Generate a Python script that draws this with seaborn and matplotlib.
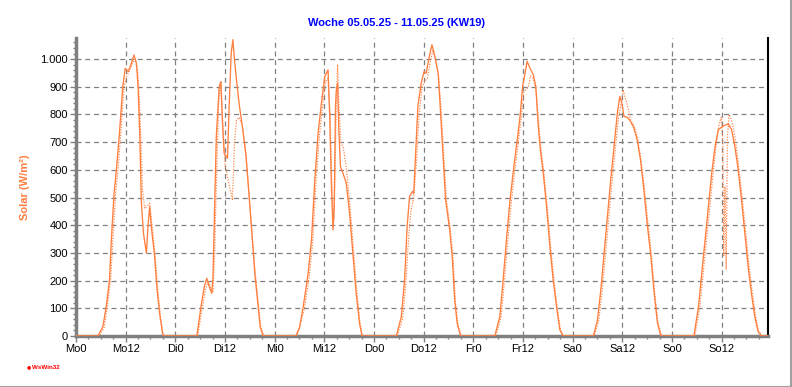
import matplotlib
matplotlib.use("Agg")
import matplotlib.pyplot as plt
from matplotlib.ticker import FixedLocator, MultipleLocator, FuncFormatter
from matplotlib.lines import Line2D
import seaborn as sns
import pandas as pd

# ---------------- data (hours since Monday 00:00, W/m²) ----------------
solar_hours = [
    0, 5.3, 6.5, 7.3, 8.1, 8.5, 9.2, 9.7, 10.5, 11.3, 11.9, 12.6, 13.4, 14.0, 14.6, 15.0, 15.4, 15.8,
    16.3, 17.0, 17.4, 17.8, 18.2, 19.0, 19.6, 20.2, 20.9, 21.2,
    29.2, 30.2, 31.0, 31.6, 32.2, 32.8, 33.1, 33.5, 33.9, 34.6, 35.0, 35.4, 35.8, 36.6, 37.0, 37.5,
    37.9, 38.3, 38.9, 39.5, 40.3, 41.1, 41.9, 42.6, 43.2, 44.0, 44.5, 45.2,
    53.1, 54.0, 54.9, 56.1, 56.9, 57.7, 58.5, 59.3, 60.1, 60.9, 61.3, 61.7, 62.1, 62.4, 62.7, 62.9,
    63.2, 63.5, 63.9, 64.5, 65.3, 66.1, 66.9, 67.7, 68.5, 69.1,
    77.4, 78.6, 79.4, 80.0, 80.6, 81.3, 81.6, 82.1, 82.6, 83.4, 84.1, 84.6, 85.3, 86.0, 86.7, 87.5,
    88.0, 88.7, 89.3, 90.3, 90.9, 91.5, 92.1, 92.9,
    101.2, 102.4, 103.2, 104.0, 104.8, 105.6, 106.4, 107.3, 107.9, 108.5, 109.0, 109.7, 110.5, 111.1,
    111.7, 112.2, 112.9, 113.7, 114.5, 115.3, 116.1, 116.9, 117.7,
    125.0, 126.0, 126.8, 127.6, 128.4, 129.2, 130.0, 130.8, 131.4, 131.9, 132.4, 133.2, 134.0, 134.8,
    135.6, 136.4, 137.2, 138.0, 138.9, 139.7, 140.5, 141.3,
    149.3, 150.4, 151.2, 152.0, 152.8, 153.6, 154.4, 155.2, 156.4, 157.6, 158.4, 159.2, 160.0, 160.8,
    161.6, 162.4, 163.2, 164.0, 164.8, 165.6, 167.2,
]
solar_values = [
    0, 0, 34, 106, 202, 335, 516, 590, 733, 900, 967, 955, 985, 1015, 985, 900, 733, 480,
    371, 300, 395, 467, 395, 287, 166, 82, 10, 0,
    0, 106, 178, 208, 178, 154, 214, 467, 720, 900, 919, 769, 660, 642, 829, 1022,
    1070, 997, 907, 829, 745, 648, 492, 347, 227, 106, 34, 0,
    0, 30, 106, 227, 347, 564, 733, 841, 937, 961, 793, 552, 383, 467, 829, 889,
    913, 745, 612, 588, 552, 443, 299, 154, 46, 0,
    0, 70, 202, 395, 504, 522, 515, 672, 829, 913, 955, 949, 1004, 1052, 1010, 949,
    829, 648, 492, 383, 287, 130, 46, 0,
    0, 70, 202, 347, 480, 588, 684, 793, 901, 949, 992, 967, 943, 901,
    757, 672, 588, 467, 323, 202, 106, 22, 0,
    0, 58, 166, 299, 431, 564, 684, 805, 865, 841, 793, 790, 775, 751,
    708, 636, 528, 407, 287, 154, 46, 0,
    0, 106, 227, 347, 467, 588, 684, 745, 759, 766, 745, 684, 600, 492,
    371, 251, 154, 70, 16, 0, 0,
]

solar2_hours = [
    0, 5.6, 6.8, 7.6, 8.4, 8.9, 9.6, 10.1, 10.8, 11.6, 12.3, 13.0, 13.8, 14.3, 14.9, 15.3, 15.7, 16.1,
    16.6, 17.2, 17.8, 18.4, 19.2, 19.8, 20.4, 21.0, 21.4,
    29.4, 30.5, 31.3, 32.0, 32.6, 33.1, 33.5, 34.0, 34.5, 35.0, 35.5, 36.0, 36.8, 37.4, 37.8, 38.3,
    38.8, 39.4, 40.2, 41.0, 41.8, 42.6, 43.3, 44.1, 44.7, 45.4,
    53.4, 55.2, 56.4, 57.2, 58.0, 58.8, 59.6, 60.3, 60.9, 61.4, 61.9, 62.3, 62.6, 62.9, 63.2, 63.5,
    64.0, 64.6, 65.3, 66.2, 67.0, 67.8, 68.6, 69.2,
    77.6, 78.9, 79.7, 80.3, 80.9, 81.6, 82.3, 82.9, 83.6, 84.3, 84.9, 85.6, 86.2, 86.9, 87.6, 88.2,
    88.9, 89.5, 90.5, 91.1, 91.7, 92.3, 93.1,
    101.4, 102.7, 103.5, 104.3, 105.1, 105.9, 106.7, 107.6, 108.2, 108.7, 109.3, 109.8, 110.5, 111.2,
    111.9, 112.4, 113.1, 113.9, 114.7, 115.5, 116.3, 117.1, 117.9,
    125.2, 126.3, 127.1, 127.9, 128.7, 129.5, 130.3, 131.1, 131.7, 132.2, 132.7, 133.3, 134.0, 134.8,
    135.6, 136.4, 137.3, 138.1, 139.0, 139.8, 140.6, 141.5,
    149.5, 150.7, 151.5, 152.3, 153.1, 153.9, 154.6, 155.3, 155.9, 156.3, 156.5, 156.8, 157.1, 157.4,
    157.8, 158.4, 159.2, 160.0, 160.9, 161.7, 162.5, 163.3, 164.1, 164.9, 165.8, 167.2,
]
solar2_values = [
    0, 0, 30, 110, 210, 345, 520, 590, 730, 900, 940, 960, 990, 1000, 960, 860, 700, 520,
    460, 470, 480, 400, 280, 160, 70, 10, 0,
    0, 100, 170, 200, 170, 160, 300, 600, 850, 920, 760, 620, 560, 520, 490, 700,
    780, 790, 760, 660, 510, 360, 230, 110, 30, 0,
    0, 100, 220, 340, 560, 720, 830, 920, 930, 800, 500, 420, 600, 850, 980, 850,
    700, 680, 610, 470, 320, 170, 50, 0,
    0, 60, 190, 340, 450, 500, 640, 800, 900, 920, 930, 990, 1030, 1000, 940, 820,
    640, 490, 380, 280, 120, 40, 0,
    0, 65, 195, 340, 470, 580, 680, 790, 880, 890, 900, 940, 930, 880,
    750, 670, 580, 460, 320, 200, 100, 20, 0,
    0, 55, 160, 290, 420, 555, 675, 790, 840, 889, 860, 829, 780, 760,
    720, 650, 540, 420, 300, 160, 50, 0,
    0, 100, 220, 340, 460, 580, 680, 760, 790, 700, 290, 540, 240, 720,
    800, 780, 720, 630, 510, 390, 270, 170, 80, 20, 0, 0,
]

x_tick_pos = [0, 12, 24, 36, 48, 60, 72, 84, 96, 108, 120, 132, 144, 156]
x_tick_labels = ["Mo0", "Mo12", "Di0", "Di12", "Mi0", "Mi12", "Do0", "Do12",
                 "Fr0", "Fr12", "Sa0", "Sa12", "So0", "So12"]
y_ticks = [0, 100, 200, 300, 400, 500, 600, 700, 800, 900, 1000]

title_text = "Woche 05.05.25 - 11.05.25 (KW19)"
ylabel_text = "Solar (W/m²)"

# ---------------- styling ----------------
sns.set_theme(style="white")
plt.rcParams["font.family"] = ["Liberation Sans", "DejaVu Sans"]

ORANGE = "#FF7F3F"
GRID = "#808080"

fig = plt.figure(figsize=(7.92, 3.87), dpi=100)
fig.patch.set_facecolor("white")
ax = fig.add_axes([76 / 792, 1 - 336 / 387, (768 - 76) / 792, (336 - 37.5) / 387])
ax.set_facecolor("white")

df1 = pd.DataFrame({"h": solar_hours, "v": solar_values})
df2 = pd.DataFrame({"h": solar2_hours, "v": solar2_values})

sns.lineplot(data=df2, x="h", y="v", ax=ax, color=ORANGE, linestyle=(0, (1, 1.3)),
             linewidth=0.85, estimator=None, sort=False, legend=False, zorder=3)
sns.lineplot(data=df1, x="h", y="v", ax=ax, color=ORANGE, linewidth=0.95,
             estimator=None, sort=False, legend=False, zorder=4)

ax.set_xlim(0, 167.2)
ax.set_ylim(0, 1078)

ax.xaxis.set_major_locator(FixedLocator(x_tick_pos))
ax.set_xticklabels(x_tick_labels)
ax.xaxis.set_minor_locator(MultipleLocator(3))
ax.yaxis.set_major_locator(FixedLocator(y_ticks))
ax.yaxis.set_minor_locator(MultipleLocator(20))
ax.yaxis.set_major_formatter(FuncFormatter(lambda v, p: f"{int(v):,}".replace(",", ".")))

ax.tick_params(axis="both", which="major", direction="out", length=4, width=1,
               color=GRID, labelsize=8, labelcolor="black", pad=2,
               bottom=True, left=True)
ax.tick_params(axis="both", which="minor", direction="out", length=2.5, width=1,
               color=GRID, bottom=True, left=True)

ax.grid(True, which="major", axis="both", color=GRID, linestyle=(0, (4, 3)), linewidth=0.9)
ax.set_axisbelow(True)

for side in ["left", "bottom"]:
    ax.spines[side].set_color(GRID)
    ax.spines[side].set_linewidth(2.5)
ax.spines["right"].set_color("black")
ax.spines["right"].set_linewidth(1.5)
ax.spines["top"].set_visible(False)

ax.set_xlabel("")
ax.set_ylabel(ylabel_text, color=ORANGE, fontsize=8, fontweight="bold")
ax.yaxis.set_label_coords(-(76 - 30) / 692, 0.5)

fig.text(0.5, 1 - 23 / 387, title_text, ha="center", va="center",
         color="#0000FF", fontsize=8, fontweight="bold")

# small logo text bottom left
fig.text(29 / 792, 1 - 367 / 387, "●", ha="center", va="center", color="red", fontsize=3.5,
         family=["DejaVu Sans"])
fig.text(32 / 792, 1 - 367.5 / 387, "WsWin32", ha="left", va="center", color="red",
         fontsize=4.5, fontweight="bold")

# window frame lines (right and bottom)
fig.add_artist(Line2D([0, 1], [0.5 / 387, 0.5 / 387], transform=fig.transFigure,
                      color="#A0A0A0", linewidth=1.5))
fig.add_artist(Line2D([790.5 / 792, 790.5 / 792], [0, 1], transform=fig.transFigure,
                      color="#A0A0A0", linewidth=1.5))

fig.savefig("out.png", dpi=100, facecolor="white")
